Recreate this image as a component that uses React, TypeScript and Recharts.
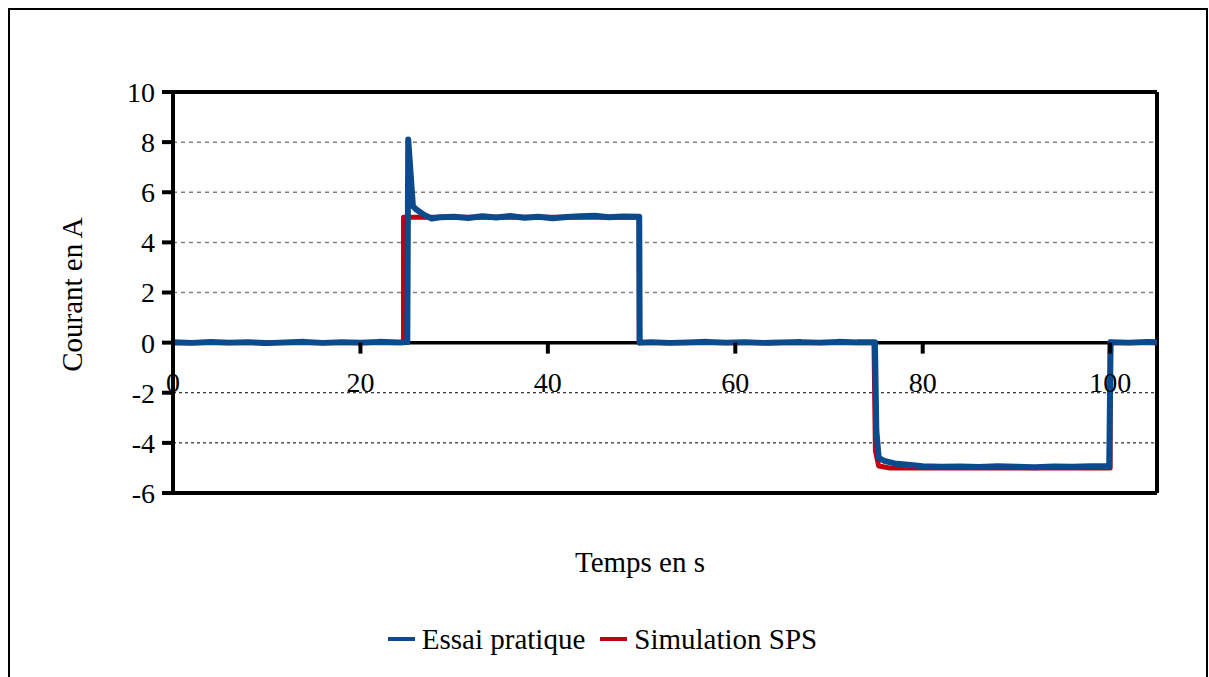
import { LineChart, Line, XAxis, YAxis, ReferenceLine, Legend, Label } from "recharts";

// Essai pratique : courant mesuré (A) en fonction du temps (s)
const tEssai = [
  0, 2, 4, 6, 8, 10, 12, 14, 16, 18, 20, 22, 24, 25.0,
  25.1, 25.6, 26.0, 26.7, 27.6, 28.5, 30, 31.5, 33, 34.5, 36, 37.5, 39, 40.5, 42, 43.5, 45, 46.5, 48, 49.75,
  49.8, 51, 53, 55, 57, 59, 61, 63, 65, 67, 69, 71, 73, 74.9,
  75.05, 75.3, 75.9, 77, 78.7, 80, 82, 84, 86, 88, 90, 92, 94, 96, 98, 99.9,
  100.05, 102, 104, 105,
];
const iEssai = [
  0.02, -0.01, 0.03, 0.0, 0.02, -0.02, 0.01, 0.03, -0.01, 0.02, 0.0, 0.03, 0.01, 0.02,
  8.1, 5.45, 5.3, 5.12, 4.95, 5.0, 5.02, 4.97, 5.04, 4.99, 5.05, 4.98, 5.02, 4.96, 5.01, 5.04, 5.06, 5.0, 5.03, 5.02,
  0.0, 0.02, -0.01, 0.01, 0.03, 0.0, 0.02, -0.01, 0.01, 0.02, 0.0, 0.03, 0.01, 0.01,
  -3.5, -4.6, -4.72, -4.82, -4.88, -4.93, -4.95, -4.94, -4.96, -4.93, -4.95, -4.97, -4.94, -4.95, -4.93, -4.93,
  0.02, 0.0, 0.03, 0.01,
];

// Simulation SPS
const tSim = [0, 24.6, 24.6, 49.75, 49.75, 74.8, 74.95, 75.3, 76.5, 100, 100, 105];
const iSim = [0, 0, 5, 5, 0, 0, -4.3, -4.92, -5, -5, 0, 0];

const xTicks = [0, 20, 40, 60, 80, 100];
const yTicks = [-6, -4, -2, 0, 2, 4, 6, 8, 10];
const gridAbove = [2, 4, 6, 8];
const gridBelow = [-2, -4];

const essaiData = tEssai.map((t, k) => ({ t, i: iEssai[k] }));
const simData = tSim.map((t, k) => ({ t, i: iSim[k] }));

const BLUE = "#0B4A8C";
const RED = "#C00010";
const FONT = '"Liberation Serif", "Times New Roman", serif';

const W = 1196;
const H = 660;
const M = { top: 82, right: 49, bottom: 147, left: 0 };
const Y_AXIS_W = 163;
const X_AXIS_H = 30;
const X_MIN = 0;
const X_MAX = 105;
const Y_MIN = -6;
const Y_MAX = 10;
const PLOT_H = H - M.top - M.bottom - X_AXIS_H;
// the time axis crosses at I = 0
const ZERO_Y = M.top + (PLOT_H * Y_MAX) / (Y_MAX - Y_MIN);

const series = [
  { name: "Essai pratique", color: BLUE },
  { name: "Simulation SPS", color: RED },
];

function XTick({ x, payload }: any) {
  return (
    <g>
      <line x1={x} x2={x} y1={ZERO_Y} y2={ZERO_Y + 11} stroke="#000" strokeWidth={4} />
      <text x={x} y={ZERO_Y + 49} textAnchor="middle" fontFamily={FONT} fontSize={28} fill="#000">
        {payload.value}
      </text>
    </g>
  );
}

function YTitle({ viewBox }: any) {
  const cx = 62;
  const cy = viewBox.y + viewBox.height / 2 + 2;
  return (
    <text
      x={cx}
      y={cy}
      transform={`rotate(-90, ${cx}, ${cy})`}
      textAnchor="middle"
      dominantBaseline="central"
      fontFamily={FONT}
      fontSize={29}
      fill="#000"
    >
      Courant en A
    </text>
  );
}

function XTitle() {
  return (
    <text x={630} y={562} textAnchor="middle" fontFamily={FONT} fontSize={29} fill="#000">
      Temps en s
    </text>
  );
}

function LegendBox() {
  return (
    <div
      style={{
        display: "flex",
        justifyContent: "center",
        alignItems: "center",
        gap: 15,
        paddingRight: 11,
        fontFamily: FONT,
        fontSize: 29,
        color: "#000",
        lineHeight: "34px",
      }}
    >
      {series.map((s) => (
        <div key={s.name} style={{ display: "flex", alignItems: "center", gap: 7 }}>
          <span style={{ display: "inline-block", width: 27, height: 4, background: s.color }} />
          <span>{s.name}</span>
        </div>
      ))}
    </div>
  );
}

export default function App() {
  return (
    <div
      style={{
        position: "fixed",
        left: 8,
        top: 8,
        width: 1200,
        height: 680,
        border: "2px solid #000",
        boxSizing: "border-box",
        background: "#fff",
      }}
    >
      <LineChart width={W} height={H} margin={M}>
        <XAxis
          dataKey="t"
          type="number"
          domain={[X_MIN, X_MAX]}
          ticks={xTicks}
          allowDataOverflow
          height={X_AXIS_H}
          axisLine={{ stroke: "#000", strokeWidth: 4 }}
          tickLine={false}
          tick={(p: any) => <XTick {...p} />}
          interval={0}
        >
          <Label content={<XTitle />} />
        </XAxis>
        <YAxis
          type="number"
          domain={[Y_MIN, Y_MAX]}
          ticks={yTicks}
          allowDataOverflow
          width={Y_AXIS_W}
          interval={0}
          axisLine={{ stroke: "#000", strokeWidth: 4 }}
          tickLine={{ stroke: "#000", strokeWidth: 4 }}
          tickSize={11}
          tickMargin={7}
          tick={{ fontFamily: FONT, fontSize: 28, fill: "#000" }}
        >
          <Label content={(p: any) => <YTitle {...p} />} />
        </YAxis>

        {gridAbove.map((v) => (
          <ReferenceLine key={v} y={v} stroke="#808080" strokeWidth={1.5} strokeDasharray="4 4" />
        ))}
        {gridBelow.map((v) => (
          <ReferenceLine key={v} y={v} stroke="#000" strokeWidth={1} strokeDasharray="3 3" />
        ))}
        <ReferenceLine y={Y_MAX} stroke="#000" strokeWidth={4} />
        <ReferenceLine x={X_MAX} stroke="#000" strokeWidth={4} />
        <ReferenceLine y={0} stroke="#000" strokeWidth={3.5} />

        <Legend
          layout="horizontal"
          verticalAlign="middle"
          align="center"
          wrapperStyle={{ top: 612, left: 0, width: W }}
          content={() => <LegendBox />}
        />

        <Line
          data={simData}
          dataKey="i"
          name="Simulation SPS"
          type="linear"
          stroke={RED}
          strokeWidth={5}
          strokeLinejoin="round"
          dot={false}
          activeDot={false}
          isAnimationActive={false}
        />
        <Line
          data={essaiData}
          dataKey="i"
          name="Essai pratique"
          type="linear"
          stroke={BLUE}
          strokeWidth={6}
          strokeLinejoin="round"
          dot={false}
          activeDot={false}
          isAnimationActive={false}
        />
      </LineChart>
    </div>
  );
}
